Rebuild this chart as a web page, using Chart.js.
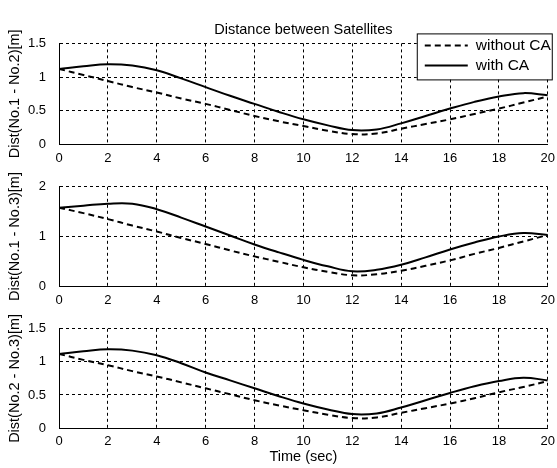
<!DOCTYPE html>
<html>
<head>
<meta charset="utf-8">
<script src="https://cdn.jsdelivr.net/npm/chart.js@4/dist/chart.umd.min.js"></script>
<style>
  body { margin: 0; background: #fff; }
  .plot { position: absolute; left: 0; width: 557px; }
</style>
</head>
<body>
<div class="plot" style="top:18px;height:147px"><canvas id="c12"></canvas></div>
<div class="plot" style="top:166px;height:141px"><canvas id="c13"></canvas></div>
<div class="plot" style="top:308px;height:160px"><canvas id="c23"></canvas></div>
<script>
const time = [0, 1, 2, 3, 4, 5, 6, 7, 8, 9, 10, 11, 12, 13, 14, 15, 16, 17, 18, 19, 20];

const d12Without = [1.12, 1.03, 0.94, 0.85, 0.77, 0.68, 0.60, 0.51, 0.42, 0.34, 0.27, 0.20, 0.15, 0.16, 0.23, 0.30, 0.37, 0.45, 0.53, 0.62, 0.71];
const d12With    = [1.12, 1.16, 1.19, 1.17, 1.10, 0.98, 0.85, 0.72, 0.60, 0.48, 0.37, 0.28, 0.21, 0.22, 0.31, 0.42, 0.53, 0.63, 0.71, 0.76, 0.73];

const d13Without = [1.58, 1.47, 1.35, 1.22, 1.10, 0.97, 0.85, 0.72, 0.60, 0.49, 0.38, 0.29, 0.22, 0.24, 0.31, 0.41, 0.52, 0.65, 0.77, 0.90, 1.03];
const d13With    = [1.58, 1.62, 1.66, 1.66, 1.55, 1.38, 1.20, 1.02, 0.84, 0.68, 0.53, 0.40, 0.30, 0.33, 0.43, 0.58, 0.74, 0.88, 1.00, 1.07, 1.03];

const d23Without = [1.12, 1.03, 0.95, 0.86, 0.78, 0.69, 0.60, 0.51, 0.42, 0.34, 0.27, 0.20, 0.15, 0.16, 0.23, 0.30, 0.37, 0.45, 0.54, 0.62, 0.71];
const d23With    = [1.12, 1.16, 1.19, 1.17, 1.10, 0.98, 0.84, 0.72, 0.60, 0.48, 0.37, 0.28, 0.21, 0.22, 0.31, 0.42, 0.53, 0.63, 0.71, 0.76, 0.72];

const seriesNames = ['without CA', 'with CA'];
const FONT = 'Liberation Sans, Arial, sans-serif';

const pts = (ys) => ys.map((y, i) => ({ x: time[i], y: y }));

// box legend like the matlab one, drawn over the top plot
const boxLegend = {
    id: 'boxLegend',
    afterDraw(chart, args, opts) {
        if (!opts.show) return;
        const ctx = chart.ctx;
        const a = chart.chartArea;
        const x0 = a.right - 131, y0 = a.top - 10, w = 135, h = 46;
        ctx.save();
        ctx.fillStyle = '#fff';
        ctx.fillRect(x0, y0, w, h);
        ctx.strokeStyle = '#000';
        ctx.lineWidth = 1;
        ctx.strokeRect(x0 + 0.5, y0 + 0.5, w, h);
        chart.data.datasets.forEach((ds, i) => {
            const ly = y0 + 12 + i * 20;
            ctx.beginPath();
            ctx.setLineDash(ds.borderDash || []);
            ctx.lineWidth = ds.borderWidth;
            ctx.moveTo(x0 + 8, ly);
            ctx.lineTo(x0 + 51, ly);
            ctx.stroke();
            ctx.setLineDash([]);
            ctx.fillStyle = '#000';
            ctx.font = '15.5px ' + FONT;
            ctx.textBaseline = 'middle';
            ctx.fillText(ds.label, x0 + 59, ly);
        });
        ctx.restore();
    }
};

function makePlot(id, without, withCA, yMax, yStep, yLabel, opts) {
    new Chart(document.getElementById(id), {
        type: 'line',
        data: {
            datasets: [
                { label: seriesNames[0], data: pts(without), borderColor: '#000', borderWidth: 2, borderDash: [6, 4], pointRadius: 0, tension: 0.4 },
                { label: seriesNames[1], data: pts(withCA), borderColor: '#000', borderWidth: 2, pointRadius: 0, tension: 0.4 }
            ]
        },
        options: {
            responsive: true,
            maintainAspectRatio: false,
            animation: false,
            layout: { padding: { top: opts.padTop, right: 9, bottom: 0, left: 0 } },
            plugins: {
                legend: { display: false },
                tooltip: { enabled: false },
                title: {
                    display: !!opts.title,
                    text: opts.title,
                    fullSize: false,
                    color: '#000',
                    font: { family: FONT, size: 14.5, weight: 'normal' },
                    padding: { top: 3, bottom: 5 }
                },
                boxLegend: { show: !!opts.legend }
            },
            scales: {
                x: {
                    type: 'linear',
                    min: 0, max: 20,
                    ticks: { stepSize: 2, color: '#000', padding: 2, maxRotation: 0, font: { family: FONT, size: 13 } },
                    // invisible tick marks only push the labels down
                    grid: { color: '#000', drawTicks: true, tickLength: 4, tickColor: 'rgba(0,0,0,0)' },
                    border: { color: '#000', width: 1, dash: [3, 3] },
                    title: {
                        display: !!opts.xTitle,
                        text: opts.xTitle,
                        color: '#000',
                        font: { family: FONT, size: 14.5 },
                        padding: { top: 0, bottom: 2 }
                    },
                    afterFit: (s) => { s.height = opts.xHeight; }
                },
                y: {
                    min: 0, max: yMax,
                    ticks: {
                        stepSize: yStep, color: '#000', padding: 13,
                        font: { family: FONT, size: 13 },
                        callback: (v) => String(v)
                    },
                    grid: { color: '#000', drawTicks: false },
                    border: { color: '#000', width: 1, dash: [3, 3] },
                    title: {
                        display: true,
                        text: yLabel,
                        color: '#000',
                        font: { family: FONT, size: 14.5 },
                        padding: { top: 6, bottom: 0 }
                    },
                    afterFit: (s) => { s.width = 59; }
                }
            }
        },
        plugins: [boxLegend]
    });
}

makePlot('c12', d12Without, d12With, 1.5, 0.5, 'Dist(No.1 - No.2)[m]',
    { padTop: 0, title: 'Distance between Satellites', legend: true, xHeight: 20 });
makePlot('c13', d13Without, d13With, 2, 1, 'Dist(No.1 - No.3)[m]',
    { padTop: 8, xHeight: 20 });
makePlot('c23', d23Without, d23With, 1.5, 0.5, 'Dist(No.2 - No.3)[m]',
    { padTop: 8, xHeight: 40, xTitle: 'Time (sec)' });
</script>
</body>
</html>
